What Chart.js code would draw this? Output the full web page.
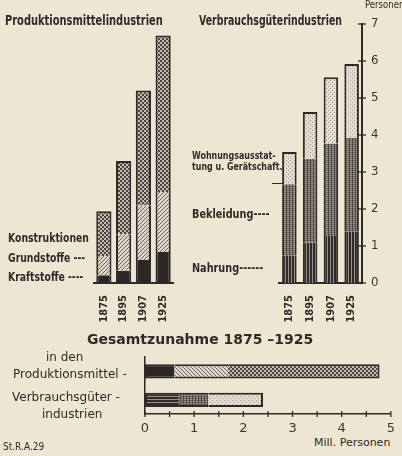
<!DOCTYPE html>
<html>
<head>
<meta charset="utf-8">
<script src="https://cdn.jsdelivr.net/npm/chart.js@4/dist/chart.umd.min.js"></script>
<style>
  body { margin: 0; background: #efe5d3; }
  #wrap { position: relative; width: 402px; height: 456px; overflow: hidden; background: #efe5d3;
          font-family: "Liberation Sans Narrow", "DejaVu Sans Condensed", sans-serif; color: #2e2a27; }
  canvas { position: absolute; }
  .t { position: absolute; white-space: nowrap; line-height: 1; transform-origin: left center; }
  .b { font-weight: bold; }
  .g { font-family: "DejaVu Sans", sans-serif; }
</style>
</head>
<body>
<div id="wrap">
  <canvas id="left" style="left:0;top:0" width="190" height="325"></canvas>
  <canvas id="right" style="left:190px;top:0" width="212" height="325"></canvas>
  <canvas id="total" style="left:0;top:340px" width="402" height="94"></canvas>

  <div class="t b" style="left:5px;top:13px;font-size:14px;transform:scaleX(0.785)">Produktionsmittelindustrien</div>
  <div class="t b" style="left:199px;top:13px;font-size:14px;transform:scaleX(0.745)">Verbrauchsgüterindustrien</div>
  <div class="t" style="left:365px;top:0px;font-size:10px;transform:scaleX(0.95)">Personen</div>

  <div class="t b" style="left:8px;top:231px;font-size:13px;transform:scaleX(0.795)">Konstruktionen</div>
  <div class="t b" style="left:8px;top:251px;font-size:13px;transform:scaleX(0.795)">Grundstoffe ---</div>
  <div class="t b" style="left:8px;top:270px;font-size:13px;transform:scaleX(0.795)">Kraftstoffe ----</div>

  <div class="t b" style="left:192px;top:150px;font-size:10.5px;transform:scaleX(0.84)">Wohnungsausstat-</div>
  <div class="t b" style="left:192px;top:161px;font-size:10.5px;transform:scaleX(0.84)">tung u. Gerätschaft.</div>
  <div style="position:absolute;left:272px;top:183px;width:12px;height:1px;background:#2e2a27"></div>
  <div class="t b" style="left:192px;top:207px;font-size:13px;transform:scaleX(0.83)">Bekleidung----</div>
  <div class="t b" style="left:192px;top:261px;font-size:13px;transform:scaleX(0.83)">Nahrung------</div>

  <div class="t b g" style="left:87px;top:332px;font-size:14px">Gesamtzunahme 1875 –1925</div>
  <div class="t g" style="left:46px;top:351px;font-size:12px">in den</div>
  <div class="t g" style="left:13px;top:368px;font-size:12px">Produktionsmittel -</div>
  <div class="t g" style="left:12px;top:391px;font-size:12px">Verbrauchsgüter -</div>
  <div class="t g" style="left:42px;top:408px;font-size:12px">industrien</div>
  <div class="t g" style="left:314px;top:437px;font-size:11px">Mill. Personen</div>
  <div class="t g" style="left:3px;top:442px;font-size:10px;transform:scaleX(0.9)">St.R.A.29</div>
</div>

<script>
  // Daten (Mill. Personen)
  const years = ['1875', '1895', '1907', '1925'];

  // Produktionsmittelindustrien
  const kraftstoffe = [0.21, 0.33, 0.62, 0.84];
  const grundstoffe = [0.52, 0.99, 1.48, 1.62];
  const konstruktionen = [1.21, 1.98, 3.10, 4.23];

  // Verbrauchsgüterindustrien
  const nahrung = [0.75, 1.09, 1.27, 1.40];
  const bekleidung = [1.92, 2.27, 2.50, 2.52];
  const wohnung = [0.87, 1.26, 1.79, 2.00];

  // Gesamtzunahme 1875-1925
  const zunahmeRows = ['Produktionsmittelindustrien', 'Verbrauchsgüterindustrien'];
  const zunahmeProd = [0.60, 1.09, 3.08];   // Kraftstoffe, Grundstoffe, Konstruktionen
  const zunahmeVerb = [0.69, 0.60, 1.11];   // Nahrung, Bekleidung, Wohnung

  const personenMax = 7;
  const zunahmeMax = 5;

  const ink = '#2e2a27';
  const narrow = '"Liberation Sans Narrow", "DejaVu Sans Condensed", sans-serif';

  // kleine Raster-Muster
  function pattern(w, h, draw) {
    const c = document.createElement('canvas');
    c.width = w; c.height = h;
    const g = c.getContext('2d');
    draw(g, w, h);
    return g.createPattern(c, 'repeat');
  }
  function px(g, x, y, col) { g.fillStyle = col; g.fillRect(x, y, 1, 1); }

  const solid = '#2b2725';
  const hatch = pattern(4, 4, (g) => {
    g.fillStyle = '#ddd5c8'; g.fillRect(0, 0, 4, 4);
    for (let x = 0; x < 4; x++) for (let y = 0; y < 4; y++)
      if ((x + y) % 4 === 3) px(g, x, y, '#6f6862');
  });
  const hatchBack = pattern(4, 4, (g) => {
    g.fillStyle = '#ddd5c8'; g.fillRect(0, 0, 4, 4);
    for (let x = 0; x < 4; x++) for (let y = 0; y < 4; y++)
      if ((x - y + 4) % 4 === 0) px(g, x, y, '#6f6862');
  });
  const checker = pattern(4, 4, (g) => {
    g.fillStyle = '#c4bcaf'; g.fillRect(0, 0, 4, 4);
    g.fillStyle = '#4a4541'; g.fillRect(0, 0, 2, 2); g.fillRect(2, 2, 2, 2);
  });
  const vStripes = pattern(3, 1, (g) => {
    g.fillStyle = '#2f2b28'; g.fillRect(0, 0, 3, 1);
    px(g, 2, 0, '#99928a');
  });
  const hStripes = pattern(1, 3, (g) => {
    g.fillStyle = '#2f2b28'; g.fillRect(0, 0, 1, 3);
    px(g, 0, 2, '#99928a');
  });
  const grid = pattern(3, 2, (g) => {
    g.fillStyle = '#9d968d'; g.fillRect(0, 0, 3, 2);
    g.fillStyle = '#4d4844'; g.fillRect(0, 0, 1, 2);
    px(g, 1, 0, '#6a645e'); px(g, 2, 0, '#6a645e');
  });
  const dots = pattern(4, 4, (g) => {
    g.fillStyle = '#e5dccf'; g.fillRect(0, 0, 4, 4);
    px(g, 0, 0, '#9e968b'); px(g, 2, 2, '#9e968b');
  });

  // Teilstriche beiderseits der Achse
  const crossTicks = {
    id: 'crossTicks',
    afterDraw(chart, args, opts) {
      const s = chart.scales[opts.axis];
      if (!s) return;
      const ctx = chart.ctx;
      ctx.save();
      ctx.strokeStyle = ink;
      ctx.lineWidth = 1.3;
      s.ticks.forEach((t, i) => {
        const p = s.getPixelForTick(i);
        ctx.beginPath();
        if (s.isHorizontal()) { ctx.moveTo(p, s.top - opts.len); ctx.lineTo(p, s.top + opts.len); }
        else { ctx.moveTo(s.left - opts.len, p); ctx.lineTo(s.left + opts.len, p); }
        ctx.stroke();
      });
      ctx.restore();
    }
  };

  function segment(data, fill, top) {
    return {
      data: data,
      backgroundColor: fill,
      borderColor: ink,
      borderWidth: { left: 2, right: 2, top: top ? 2 : 0, bottom: 0 },
      borderSkipped: false
    };
  }

  function yearAxis() {
    return {
      stacked: true,
      grid: { display: false },
      border: { display: true, color: ink, width: 2 },
      ticks: {
        color: ink, minRotation: 90, maxRotation: 90, padding: 4,
        font: { family: narrow, size: 11, weight: 'bold' }
      },
      afterFit: (s) => { s.height = 40; }
    };
  }

  const common = {
    responsive: false,
    animation: false,
    plugins: { legend: { display: false }, tooltip: { enabled: false } }
  };

  // Produktionsmittelindustrien
  new Chart(document.getElementById('left'), {
    type: 'bar',
    data: {
      labels: years,
      datasets: [
        segment(kraftstoffe, solid, false),
        segment(grundstoffe, hatch, false),
        segment(konstruktionen, checker, true)
      ]
    },
    options: {
      ...common,
      layout: { padding: { left: 94, right: 17, top: 24, bottom: 2 } },
      datasets: { bar: { categoryPercentage: 1, barPercentage: 0.77 } },
      scales: {
        x: yearAxis(),
        y: { stacked: true, display: false, min: 0, max: personenMax }
      }
    }
  });

  // Verbrauchsgüterindustrien
  new Chart(document.getElementById('right'), {
    type: 'bar',
    data: {
      labels: years,
      datasets: [
        segment(nahrung, vStripes, false),
        segment(bekleidung, grid, false),
        segment(wohnung, dots, true)
      ]
    },
    options: {
      ...common,
      layout: { padding: { left: 89, right: 0, top: 24, bottom: 2 } },
      datasets: { bar: { categoryPercentage: 1, barPercentage: 0.7 } },
      scales: {
        x: yearAxis(),
        y: {
          stacked: true, position: 'right', min: 0, max: personenMax,
          grid: { display: false, drawTicks: false },
          border: { display: true, color: ink, width: 2 },
          ticks: { stepSize: 1, color: '#3a3532', padding: 9, font: { family: '"DejaVu Sans Condensed", sans-serif', size: 13 } },
          afterFit: (s) => { s.width = 40; }
        }
      },
      plugins: { ...common.plugins, crossTicks: { axis: 'y', len: 4 } }
    },
    plugins: [crossTicks]
  });

  // Gesamtzunahme 1875-1925
  const fillsProd = [solid, hatchBack, checker];
  const fillsVerb = [hStripes, grid, dots];
  const totalSets = [0, 1, 2].map((i) => ({
    data: [zunahmeProd[i], zunahmeVerb[i]],
    backgroundColor: [fillsProd[i], fillsVerb[i]],
    borderColor: ink,
    borderWidth: { top: 2, bottom: 2, left: i === 0 ? 2 : 0, right: i === 2 ? 2 : 0 },
    borderSkipped: false
  }));

  new Chart(document.getElementById('total'), {
    type: 'bar',
    data: { labels: zunahmeRows, datasets: totalSets },
    options: {
      ...common,
      indexAxis: 'y',
      layout: { padding: { left: 145, right: 9, top: 17, bottom: 0 } },
      datasets: { bar: { categoryPercentage: 1, barPercentage: 0.5 } },
      scales: {
        x: {
          stacked: true, min: 0, max: zunahmeMax,
          grid: { display: false, drawTicks: false },
          border: { display: true, color: ink, width: 1.5 },
          ticks: {
            stepSize: 0.5, color: '#3a3532', padding: 7,
            font: { family: '"DejaVu Sans", sans-serif', size: 13 },
            callback: (v) => Number.isInteger(v) ? v : ''
          },
          afterFit: (s) => { s.height = 20; }
        },
        y: {
          stacked: true,
          grid: { display: false, drawTicks: false },
          border: { display: true, color: ink, width: 1.5 },
          ticks: { display: false },
          afterFit: (s) => { s.width = 0; }
        }
      },
      plugins: { ...common.plugins, crossTicks: { axis: 'x', len: 3 } }
    },
    plugins: [crossTicks]
  });
</script>
</body>
</html>
